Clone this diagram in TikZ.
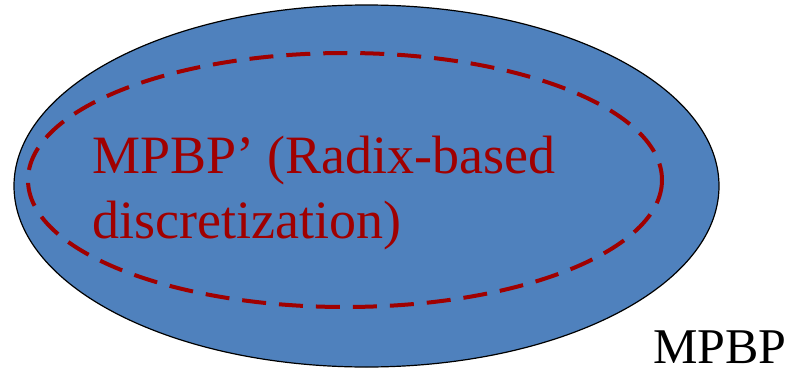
\documentclass[tikz,border=0pt]{standalone}
\usepackage{fontspec}
\setmainfont{Liberation Serif}
\definecolor{setblue}{RGB}{79,129,189}
\definecolor{setred}{RGB}{160,0,0}
\begin{document}
\begin{tikzpicture}[x=1pt,y=-1pt,
  outerset/.style={fill=setblue,draw=black,line width=1.2pt},
  innerset/.style={draw=setred,line width=4pt,dash pattern=on 24pt off 13pt},
  redlabel/.style={text=setred,font=\fontsize{54}{65}\selectfont,align=left,inner sep=0pt},
  blacklabel/.style={text=black,font=\fontsize{50}{60}\selectfont,inner sep=0pt}]
  \useasboundingbox (0,0) rectangle (796,370);
  % the full problem class
  \path[outerset] (366.5,186) ellipse [x radius=352.5, y radius=181];
  % the radix-based subclass
  \path[innerset] (345,180) ellipse [x radius=317, y radius=127];
  \node[redlabel,anchor=base west] (sub) at (92,238) {MPBP’ (Radix-based\\discretization)};
  \node[blacklabel,anchor=base west] (full) at (653,363) {MPBP};
\end{tikzpicture}
\end{document}
